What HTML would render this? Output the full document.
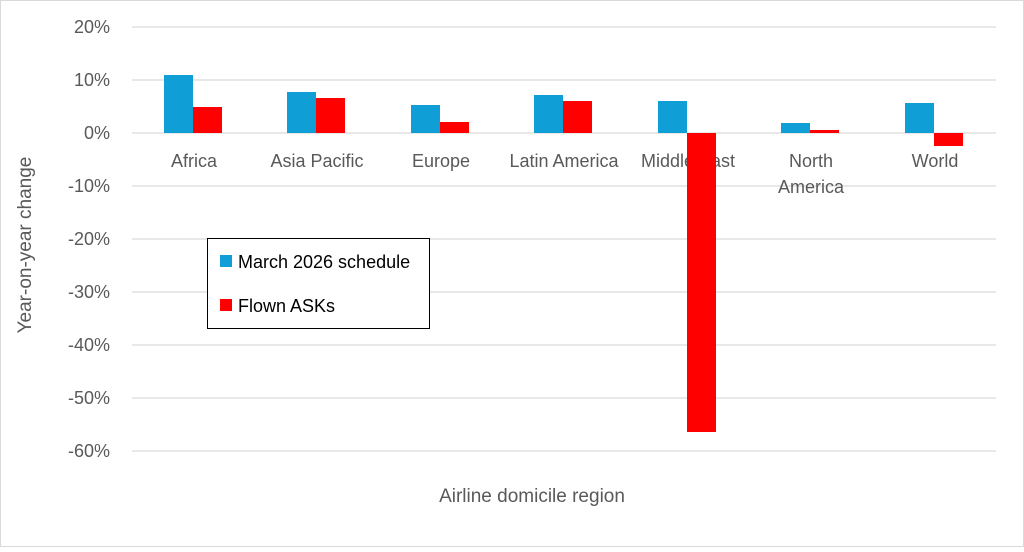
<!DOCTYPE html>
<html><head><style>body{margin:0;background:#fff}</style></head><body>
<svg width="1024" height="547" xmlns="http://www.w3.org/2000/svg" font-family="Liberation Sans, sans-serif" fill="#595959">
<rect x="0.5" y="0.5" width="1023" height="546" fill="#fff" stroke="#d9d9d9"/>
<g stroke="#d9d9d9" stroke-width="1.3">
<line x1="132" x2="996" y1="27" y2="27"/><line x1="132" x2="996" y1="80" y2="80"/>
<line x1="132" x2="996" y1="186" y2="186"/><line x1="132" x2="996" y1="239" y2="239"/><line x1="132" x2="996" y1="292" y2="292"/>
<line x1="132" x2="996" y1="345" y2="345"/><line x1="132" x2="996" y1="398" y2="398"/><line x1="132" x2="996" y1="451" y2="451"/>
<line x1="132" x2="996" y1="133" y2="133"/>
</g>
<g font-size="18" text-anchor="end">
<text x="110" y="33">20%</text><text x="110" y="86">10%</text><text x="110" y="139">0%</text>
<text x="110" y="192">-10%</text><text x="110" y="245">-20%</text><text x="110" y="298">-30%</text>
<text x="110" y="351">-40%</text><text x="110" y="404">-50%</text><text x="110" y="457">-60%</text>
</g>
<g font-size="18" text-anchor="middle">
<text x="194" y="167">Africa</text><text x="317" y="167">Asia Pacific</text><text x="441" y="167">Europe</text>
<text x="564" y="167">Latin America</text><text x="688" y="167">Middle East</text>
<text x="811" y="167">North</text><text x="811" y="193">America</text><text x="935" y="167">World</text>
<text x="532" y="502" font-size="19">Airline domicile region</text>
<text transform="translate(31,245) rotate(-90)" font-size="19">Year-on-year change</text>
</g>
<g fill="#0f9fd6">
<rect x="164" y="75" width="29" height="58"/><rect x="287" y="92" width="29" height="41"/>
<rect x="411" y="105" width="29" height="28"/><rect x="534" y="95" width="29" height="38"/>
<rect x="658" y="101" width="29" height="32"/><rect x="781" y="123" width="29" height="10"/>
<rect x="905" y="103" width="29" height="30"/>
</g>
<g fill="#ff0000">
<rect x="193" y="107" width="29" height="26"/><rect x="316" y="98" width="29" height="35"/>
<rect x="440" y="122" width="29" height="11"/><rect x="563" y="101" width="29" height="32"/>
<rect x="687" y="133" width="29" height="299"/><rect x="810" y="130" width="29" height="3"/>
<rect x="934" y="133" width="29" height="13"/>
</g>
<rect x="207.5" y="238.5" width="222" height="90" fill="#fff" stroke="#000"/>
<rect x="220" y="255" width="12" height="12" fill="#0f9fd6"/>
<rect x="220" y="299" width="12" height="12" fill="#ff0000"/>
<g font-size="18" fill="#000"><text x="238" y="268">March 2026 schedule</text><text x="238" y="312">Flown ASKs</text></g>
</svg>
</body></html>
